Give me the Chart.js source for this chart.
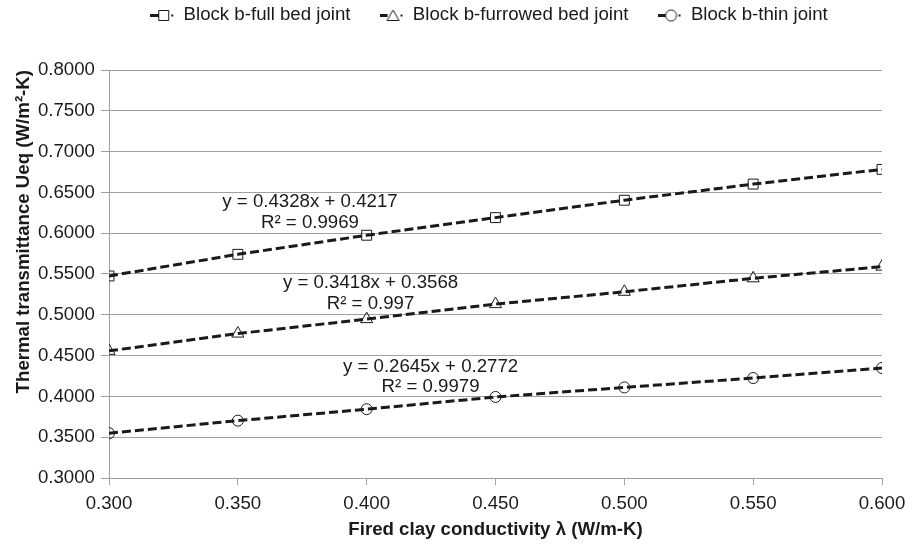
<!DOCTYPE html>
<html>
<head>
<meta charset="utf-8">
<script src="https://cdn.jsdelivr.net/npm/chart.js@4.4.1/dist/chart.umd.min.js"></script>
<style>
  html, body { margin: 0; padding: 0; background: #fff; }
  #wrap { width: 906px; height: 544px; }
</style>
</head>
<body>
<div id="wrap"><canvas id="myChart" width="906" height="544"></canvas></div>
<script>
"use strict";

// fired clay conductivity (W/m-K)
const conductivity = [0.30, 0.35, 0.40, 0.45, 0.50, 0.55, 0.60];
const fullBedJoint = [0.5476, 0.5741, 0.5975, 0.6191, 0.6404, 0.6602, 0.6782];
const furrowedBedJoint = [0.4558, 0.4770, 0.4947, 0.5131, 0.5282, 0.5447, 0.5590];
const thinJoint = [0.3549, 0.3703, 0.3843, 0.3993, 0.4110, 0.4225, 0.4348];

const xTicks = [0.30, 0.35, 0.40, 0.45, 0.50, 0.55, 0.60];
const yTicks = [0.30, 0.35, 0.40, 0.45, 0.50, 0.55, 0.60, 0.65, 0.70, 0.75, 0.80];

// trendline equations as printed on the chart, placed in data coordinates
const equationText = [
  'y = 0.4328x + 0.4217', 'R² = 0.9969',
  'y = 0.3418x + 0.3568', 'R² = 0.997',
  'y = 0.2645x + 0.2772', 'R² = 0.9979'
];
const equationX = [0.378, 0.378, 0.4015, 0.4015, 0.4248, 0.4248];
const equationY = [0.6386, 0.6125, 0.539, 0.5132, 0.4364, 0.4119];

const FONT = "'Liberation Sans', Arial, sans-serif";
const FONT_SIZE = 18.67;
const INK = '#1a1a1a';
const GRID = '#a0a0a0';

const toPoints = (ys) => ys.map((y, i) => ({ x: conductivity[i], y: y }));

// small legend glyph: short line, marker, dot (like the source legend)
function legendGlyph(kind) {
  const c = document.createElement('canvas');
  c.width = 24; c.height = 14;
  const g = c.getContext('2d');
  g.fillStyle = INK;
  g.strokeStyle = INK;
  g.fillRect(0, 6, 8, 3);
  g.lineWidth = 1;
  g.beginPath();
  if (kind === 'rect') {
    g.rect(8.5, 2.5, 10, 10);
  } else if (kind === 'triangle') {
    g.moveTo(7.5, 12.5); g.lineTo(13.5, 2); g.lineTo(19.5, 12.5); g.closePath();
  } else {
    g.arc(13.5, 7.5, 5.5, 0, Math.PI * 2);
  }
  g.stroke();
  g.fillRect(21, 6.5, 2, 2);
  return c;
}

function seriesStyle(label, values, style, radius) {
  return {
    label: label,
    data: toPoints(values),
    borderColor: INK,
    borderWidth: 3,
    borderDash: [9, 4],
    pointStyle: style,
    pointRadius: radius,
    pointHoverRadius: radius,
    pointBorderColor: INK,
    pointBorderWidth: 1,
    pointBackgroundColor: 'rgba(255,255,255,0)',
    legendGlyph: legendGlyph(style),
    tension: 0,
    fill: false
  };
}

const equationLabels = {
  id: 'equationLabels',
  afterDatasetsDraw(chart) {
    const ctx = chart.ctx;
    const xs = chart.scales.x, ys = chart.scales.y;
    ctx.save();
    ctx.font = FONT_SIZE + 'px ' + FONT;
    ctx.fillStyle = INK;
    ctx.textAlign = 'center';
    ctx.textBaseline = 'middle';
    equationText.forEach((t, i) => {
      ctx.fillText(t, xs.getPixelForValue(equationX[i]), ys.getPixelForValue(equationY[i]));
    });
    ctx.restore();
  }
};

// legend sits high and a bit right of the canvas centre, with a tall gap under it
const legendPlacement = {
  id: 'legendPlacement',
  beforeLayout(chart) {
    const lg = chart.legend;
    if (lg && !lg._sized) {
      const fit = lg.fit.bind(lg);
      lg.fit = function () { fit(); this.height = 70; };
      lg._sized = true;
    }
  },
  afterLayout(chart) {
    const lg = chart.legend;
    if (!lg) return;
    lg.top = 15 - FONT_SIZE / 2 - lg.options.labels.padding;
    lg.left += 48;
    lg.right += 48;
  }
};

const ctx = document.getElementById('myChart').getContext('2d');
const myChart = new Chart(ctx, {
  type: 'line',
  data: {
    datasets: [
      seriesStyle('Block b-full bed joint', fullBedJoint, 'rect', 7),
      seriesStyle('Block b-furrowed bed joint', furrowedBedJoint, 'triangle', 7),
      seriesStyle('Block b-thin joint', thinJoint, 'circle', 5.5)
    ]
  },
  options: {
    responsive: false,
    animation: false,
    layout: { padding: { left: 0, right: 24, top: 0, bottom: 0 } },
    plugins: {
      legend: {
        display: true,
        position: 'top',
        labels: {
          usePointStyle: true,
          pointStyleWidth: 24,
          padding: 29,
          color: INK,
          font: { family: FONT, size: FONT_SIZE },
          generateLabels: (chart) => chart.data.datasets.map((ds, i) => ({
            text: ds.label,
            pointStyle: ds.legendGlyph,
            fillStyle: INK,
            strokeStyle: INK,
            lineWidth: 0,
            fontColor: INK,
            hidden: false,
            datasetIndex: i
          }))
        }
      },
      tooltip: { enabled: false }
    },
    scales: {
      x: {
        type: 'linear',
        min: 0.3,
        max: 0.6,
        afterBuildTicks: (scale) => { scale.ticks = xTicks.map(v => ({ value: v })); },
        afterFit: (scale) => {
          scale.height = 66;
          scale.paddingLeft = 0;
          scale.paddingRight = 0;
        },
        ticks: {
          color: INK,
          padding: 8,
          maxRotation: 0,
          font: { family: FONT, size: FONT_SIZE },
          callback: (v) => Number(v).toFixed(3)
        },
        grid: { drawOnChartArea: false, color: GRID, tickLength: 7, lineWidth: 1 },
        border: { color: GRID, width: 1 },
        title: {
          display: true,
          text: 'Fired clay conductivity λ (W/m-K)',
          color: INK,
          font: { family: FONT, size: FONT_SIZE, weight: 'bold' },
          padding: { top: 0, bottom: 3 }
        }
      },
      y: {
        min: 0.3,
        max: 0.8,
        afterBuildTicks: (scale) => { scale.ticks = yTicks.map(v => ({ value: v })); },
        afterFit: (scale) => { scale.width = 109; },
        ticks: {
          color: INK,
          padding: 6,
          font: { family: FONT, size: FONT_SIZE },
          callback: (v) => Number(v).toFixed(4)
        },
        grid: { color: GRID, tickLength: 8, lineWidth: 1 },
        border: { color: GRID, width: 1 },
        title: {
          display: true,
          align: 'end',
          text: 'Thermal transmittance Ueq (W/m²-K)',
          color: INK,
          font: { family: FONT, size: FONT_SIZE, weight: 'bold' },
          padding: { top: 13, bottom: 0 }
        }
      }
    }
  },
  plugins: [equationLabels, legendPlacement]
});
</script>
</body>
</html>
